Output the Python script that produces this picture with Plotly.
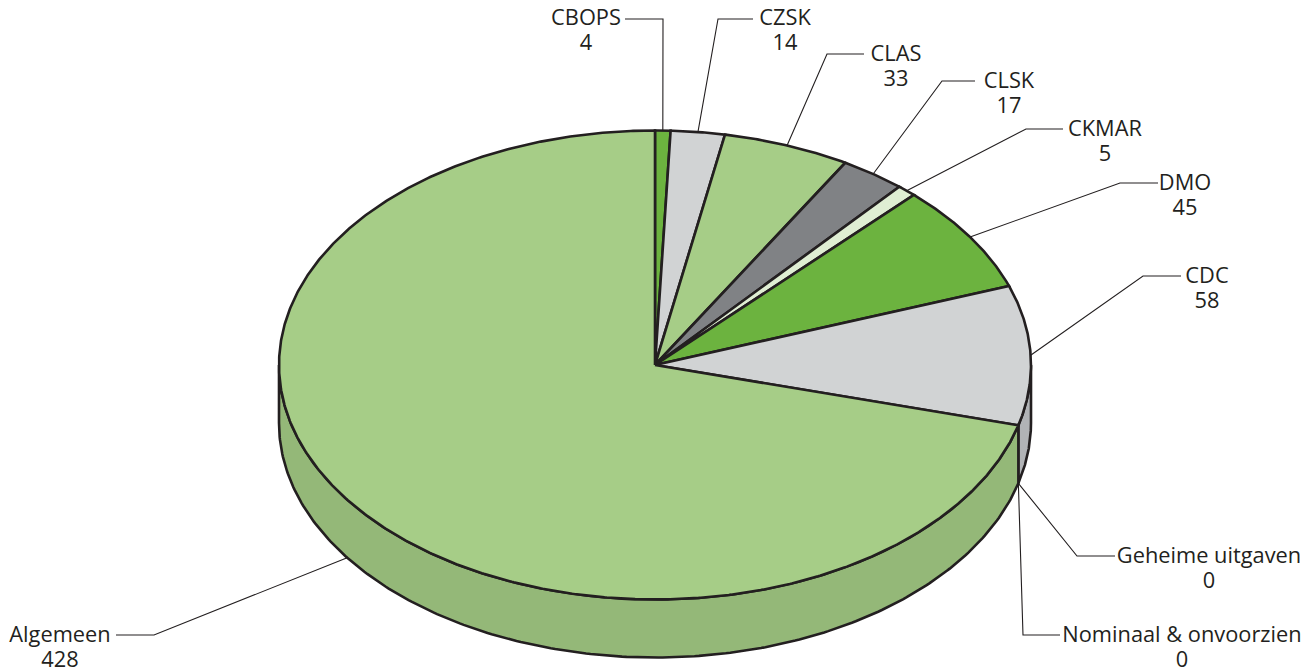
import numpy as np
import plotly.graph_objects as go

# Data
categories = ["CBOPS", "CZSK", "CLAS", "CLSK", "CKMAR", "DMO", "CDC",
              "Geheime uitgaven", "Nominaal & onvoorzien", "Algemeen"]
values = [4, 14, 33, 17, 5, 45, 58, 0, 0, 428]

# Styles
top_colors = ["#6cb33f", "#d1d3d4", "#a6cd87", "#808285", "#dfeed3", "#6cb33f",
              "#d1d3d4", "#808285", "#808285", "#a6cd87"]
side_colors = ["#5f9e37", "#b1b3b6", "#94b878", "#6d6f72", "#c6d6ba", "#5f9e37",
               "#b1b3b6", "#6d6f72", "#6d6f72", "#94b878"]
INK = "#231f20"
CX, CY, RX, RY, DEPTH = 655.0, 365.0, 376.0, 234.5, 58.0

# Label placement (page pixels): label centre x, first-line y, leader end x, elbow x
label_x = [586, 785, 896, 1009, 1105, 1185, 1207, 1209, 1182, 60]
label_y = [20, 20, 56, 83, 131, 185, 278, 558, 637, 637]
leader_end = [625, 753, 864, 975, 1063, 1158, 1181, 1115, 1060, 116]
leader_elbow = [663, 718, 827, 942, 1026, 1120, 1143, 1077, 1023, 154]
leader_y = [19, 19, 54, 81, 129, 183, 276, 556, 635, 635]
LINE_GAP = 25


def ell(t, drop=0.0):
    t = np.radians(t)
    return CX + RX * np.sin(t), CY - RY * np.cos(t) + drop


vals = np.array(values, dtype=float)
edges = np.concatenate([[0], np.cumsum(vals)]) / vals.sum() * 360.0
mids = (edges[:-1] + edges[1:]) / 2

fig = go.Figure()


def poly(x, y, fill, width=2.6):
    fig.add_trace(go.Scatter(x=x, y=y, mode="lines", fill="toself", fillcolor=fill,
                             line=dict(color=INK, width=width), hoverinfo="skip",
                             showlegend=False))


# Side wall: only the front half of the rim (90-270 degrees) is visible
for i in range(len(vals)):
    a, b = max(edges[i], 90.0), min(edges[i + 1], 270.0)
    if b <= a:
        continue
    ts = np.linspace(a, b, 240)
    xt, yt = ell(ts)
    xb, yb = ell(ts[::-1], DEPTH)
    poly(np.r_[xt, xb, xt[0]], np.r_[yt, yb, yt[0]], side_colors[i])

# Top face wedges
for i in range(len(vals)):
    if vals[i] == 0:
        continue
    ts = np.linspace(edges[i], edges[i + 1], max(8, int((edges[i + 1] - edges[i]) * 3)))
    xt, yt = ell(ts)
    poly(np.r_[CX, xt, CX], np.r_[CY, yt, CY], top_colors[i])

# Leader lines: each starts on the rim at the middle of its slice
for i, name in enumerate(categories):
    mid = mids[i]
    if vals[i] == 0:
        ax, ay = ell(edges[i], DEPTH)
    elif 90 < mid < 270:
        ax, ay = ell(mid + 2.5, DEPTH)
    else:
        ax, ay = ell(mid)
    fig.add_trace(go.Scatter(x=[ax, leader_elbow[i], leader_end[i]],
                             y=[ay, leader_y[i], leader_y[i]],
                             mode="lines", line=dict(color=INK, width=1.1),
                             hoverinfo="skip", showlegend=False))

# Labels
font = dict(family="Open Sans", size=21.8, color=INK)
fig.add_trace(go.Scatter(x=label_x, y=label_y, text=categories, mode="text",
                         textposition="middle center", textfont=font,
                         hoverinfo="skip", showlegend=False))
fig.add_trace(go.Scatter(x=label_x, y=[y + LINE_GAP for y in label_y],
                         text=[str(v) for v in values], mode="text",
                         textposition="middle center", textfont=font,
                         hoverinfo="skip", showlegend=False))

fig.update_layout(
    width=1315, height=672, margin=dict(l=0, r=0, t=0, b=0),
    paper_bgcolor="white", plot_bgcolor="white",
    xaxis=dict(range=[0, 1315], visible=False, fixedrange=True),
    yaxis=dict(range=[672, 0], visible=False, fixedrange=True),
)
fig.write_html("out.html", config={"displayModeBar": False},
               post_script="document.body.style.margin='0';document.body.style.overflow='hidden';")
